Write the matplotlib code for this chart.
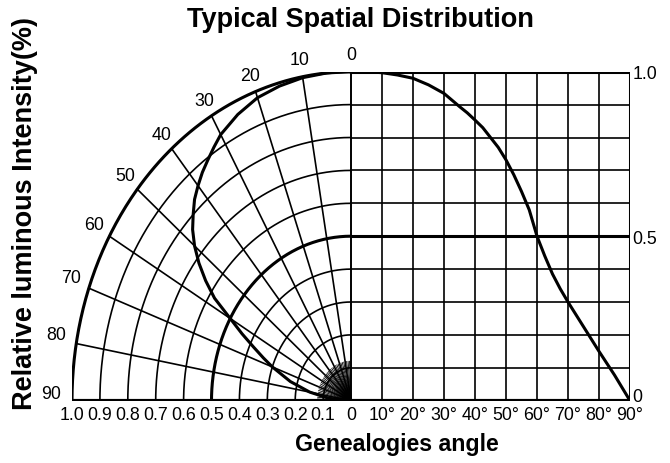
import numpy as np
import matplotlib
matplotlib.use("Agg")
import matplotlib.pyplot as plt
from matplotlib import font_manager as fm

# ---- data ----
angles = [0, 5, 10, 15, 20, 25, 30, 32.5, 35, 37.5, 40, 42.5, 45, 47.5, 50, 52.5, 55,
          57.5, 60, 62.5, 65, 67.5, 70, 75, 80, 85, 90]
intensity = [1.0, 1.0, 0.997, 0.99, 0.98, 0.96, 0.934, 0.914, 0.894, 0.875, 0.853,
             0.83, 0.80, 0.77, 0.732, 0.687, 0.636, 0.58, 0.50, 0.44, 0.385, 0.34,
             0.30, 0.225, 0.15, 0.078, 0.0]
radial_ticks = [1.0, 0.9, 0.8, 0.7, 0.6, 0.5, 0.4, 0.3, 0.2, 0.1]
radial_labels = ["1.0", "0.9", "0.8", "0.7", "0.6", "0.5", "0.4", "0.3", "0.2", "0.1"]
polar_angles = [0, 10, 20, 30, 40, 50, 60, 70, 80, 90]
angle_ticks = [10, 20, 30, 40, 50, 60, 70, 80, 90]
angle_labels = ["10°", "20°", "30°", "40°", "50°", "60°", "70°", "80°", "90°"]
right_ticks = [1.0, 0.5, 0.0]
right_labels = ["1.0", "0.5", "0"]

title = "Typical Spatial Distribution"
xlabel = "Genealogies angle"
ylabel = "Relative luminous Intensity(%)"

names = {f.name for f in fm.fontManager.ttflist}
if "Liberation Sans Narrow" in names:
    NARROW = dict(family=["Liberation Sans Narrow", "DejaVu Sans"], fontsize=14)
else:
    NARROW = dict(family=["Liberation Sans", "DejaVu Sans"], fontsize=12.8)
BOLD = ["Liberation Sans", "DejaVu Sans"]

fig = plt.figure(figsize=(6.7, 4.63), dpi=100)
W, H = 670, 463
x0, x1, ytop, ybot = 72, 630, 71.7, 400.7
ax = fig.add_axes([x0 / W, (H - ybot) / H, (x1 - x0) / W, (ybot - ytop) / H])
ax.set_xlim(-1, 1)
ax.set_ylim(0, 1)
ax.axis("off")

thin = 1.2
thick = 2.2
col = "black"

def px(r, a):
    t = np.deg2rad(a)
    return -r * np.sin(t), r * np.cos(t)

# polar arcs
th = np.linspace(0, 90, 200)
for r in radial_ticks:
    xs, ys = px(r, th)
    lw = thick if r in (1.0, 0.5) else thin
    ax.plot(xs, ys, color=col, lw=lw, solid_capstyle="butt")
# radial lines
for a in polar_angles:
    xs, ys = px(np.array([0, 1.0]), a)
    ax.plot(xs, ys, color=col, lw=thin)
# fine fan near origin
for a in np.arange(2.5, 90, 2.5):
    if a % 10 == 0:
        continue
    xs, ys = px(np.array([0, 0.12]), a)
    ax.plot(xs, ys, color=col, lw=0.6)

# rectangular grid on right
for a in angle_ticks:
    ax.plot([a / 90, a / 90], [0, 1], color=col, lw=thick if a == 90 else thin)
ax.plot([0, 0], [0, 1], color=col, lw=thin)
for v in np.arange(1, 11) / 10:
    lw = thick if v in (0.5, 1.0) else thin
    ax.plot([0, 1], [v, v], color=col, lw=lw)
ax.plot([-1, 1], [0, 0], color=col, lw=thick + 0.8, solid_capstyle="butt")

# curves
ang = np.array(angles, dtype=float)
inten = np.array(intensity)
ax.plot(ang / 90, inten, color=col, lw=2.2, solid_joinstyle="round")
xs, ys = px(inten, ang)
ax.plot(xs, ys, color=col, lw=2.2, solid_joinstyle="round")

# angle labels around arc
for a in polar_angles:
    xa, ya = px(1.0, a)
    s = np.sin(np.deg2rad(a))
    c = np.cos(np.deg2rad(a))
    ax.annotate(str(a), (xa, ya), xytext=(-15 * s - 6 * s ** 8, 10 * c + 6),
                textcoords="offset pixels", ha="center", va="center", **NARROW)

# bottom labels
ylab = -0.045
for r, lab in zip(radial_ticks, radial_labels):
    ax.text(-r, ylab, lab, ha="center", va="center", **NARROW)
ax.text(0, ylab, "0", ha="center", va="center", **NARROW)
for a, lab in zip(angle_ticks, angle_labels):
    ax.text(a / 90, ylab, lab, ha="center", va="center", **NARROW)
for v, lab in zip(right_ticks, right_labels):
    ax.text(1.008, v - 0.01 if v > 0 else v + 0.01, lab, ha="left", va="center", **NARROW)

fig.text(360 / W, 1 - 20 / H, title, ha="center", va="center", fontsize=19.5,
         fontweight="bold", family=BOLD)
fig.text(397 / W, 1 - 445 / H, xlabel, ha="center", va="center", fontsize=16.7,
         fontweight="bold", family=BOLD)
fig.text(25 / W, 1 - 214 / H, ylabel, ha="center", va="center", rotation=90,
         fontsize=19.5, fontweight="bold", family=BOLD)

fig.savefig("out.png", dpi=100)
